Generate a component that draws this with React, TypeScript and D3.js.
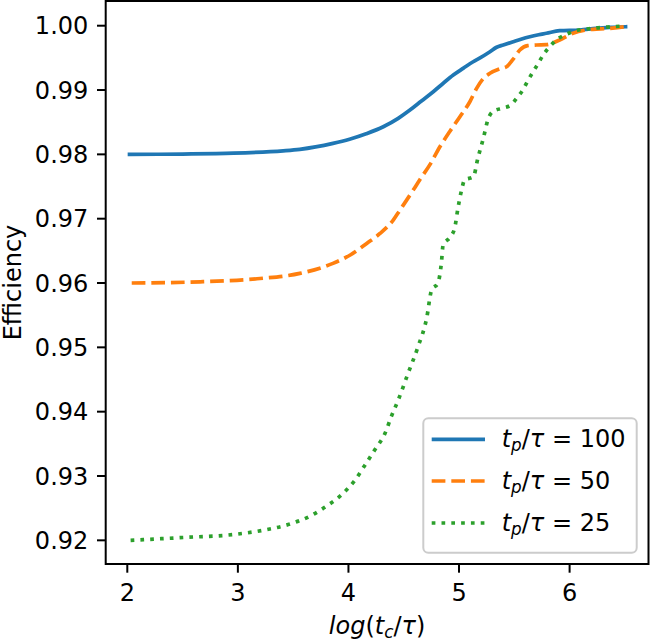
import React from "react";
import * as d3 from "d3";

const blueX = [2.02, 2.5, 2.96, 3.41, 3.56, 3.86, 4.01, 4.16, 4.315, 4.45, 4.556, 4.66, 4.767, 4.86, 4.948, 5.04, 5.128, 5.19, 5.28, 5.34, 5.4, 5.49, 5.56, 5.64, 5.72, 5.79, 5.91, 6.09, 6.24, 6.36, 6.506];
const blueY = [0.98, 0.98005, 0.98018, 0.98055, 0.98078, 0.9817, 0.98235, 0.9832, 0.98429, 0.9856, 0.98689, 0.9883, 0.98974, 0.9911, 0.99233, 0.9934, 0.9944, 0.995, 0.99596, 0.99665, 0.997, 0.99751, 0.9979, 0.99829, 0.9986, 0.99882, 0.99922, 0.99933, 0.9996, 0.99975, 0.99984];

const orangeX = [2.04, 2.66, 3.2, 3.56, 3.86, 4.02, 4.165, 4.285, 4.405, 4.466, 4.586, 4.647, 4.737, 4.827, 4.918, 5.008, 5.098, 5.159, 5.22, 5.28, 5.37, 5.43, 5.49, 5.55, 5.62, 5.7, 5.79, 5.91, 6.03, 6.15, 6.28, 6.39, 6.5];
const orangeY = [0.96, 0.96019, 0.9607, 0.96149, 0.96305, 0.9644, 0.96616, 0.9677, 0.96978, 0.97134, 0.97445, 0.9761, 0.9784, 0.98118, 0.9836, 0.98585, 0.98818, 0.99026, 0.9918, 0.9926, 0.9933, 0.99362, 0.9948, 0.99622, 0.9969, 0.997, 0.99705, 0.99778, 0.99882, 0.99933, 0.9995, 0.99962, 0.99984];

const greenX = [2.03, 2.506, 2.958, 3.23, 3.486, 3.652, 3.8, 3.94, 4.059, 4.149, 4.24, 4.33, 4.39, 4.45, 4.54, 4.631, 4.707, 4.752, 4.81, 4.84, 4.856, 4.917, 4.96, 4.99, 5.023, 5.05, 5.13, 5.17, 5.22, 5.26, 5.31, 5.4, 5.475, 5.52, 5.58, 5.626, 5.67, 5.717, 5.76, 5.82, 5.88, 5.957, 6.03, 6.21, 6.39, 6.48];
const greenY = [0.92, 0.92044, 0.9209, 0.92157, 0.92261, 0.92375, 0.9253, 0.92712, 0.92935, 0.93168, 0.93412, 0.93661, 0.93935, 0.9418, 0.946, 0.95018, 0.9545, 0.9589, 0.96003, 0.96305, 0.9659, 0.96709, 0.9685, 0.9716, 0.97445, 0.976, 0.97652, 0.97938, 0.98249, 0.98534, 0.9867, 0.9872, 0.98775, 0.9887, 0.9901, 0.99156, 0.99285, 0.99415, 0.99544, 0.99673, 0.99778, 0.99855, 0.99907, 0.9996, 0.99984, 0.99995];

const seriesLabels = ["100", "50", "25"];
const xTicks = [2, 3, 4, 5, 6];
const yTicks = [0.92, 0.93, 0.94, 0.95, 0.96, 0.97, 0.98, 0.99, 1.0];

const W = 650;
const H = 643;
const FONT = "DejaVu Sans";
const FS = 24;
const LW = 3.7;

export default function App() {
  const left = 105.7, right = 648.5, top = 1, bottom = 564;
  const x = d3.scaleLinear().domain([1.8047, 6.7135]).range([left, right]);
  const y = d3.scaleLinear().domain([0.91632, 1.00384]).range([bottom, top]);
  const line = d3
    .line<[number, number]>()
    .x((d) => x(d[0]))
    .y((d) => y(d[1]))
    .curve(d3.curveMonotoneX);

  const series = [
    { xs: blueX, ys: blueY, color: "#1f77b4", dash: undefined as string | undefined },
    { xs: orangeX, ys: orangeY, color: "#ff7f0e", dash: `${3.7 * LW},${1.6 * LW}` },
    { xs: greenX, ys: greenY, color: "#2ca02c", dash: `${1 * LW},${1.65 * LW}` },
  ];

  const tick = 8.7;
  const legX = 423.3, legY = 418.3, legW = 213.4, legH = 134.4;
  const rowY = [439.3, 481, 523];

  return (
    <svg
      width={W}
      height={H}
      style={{ position: "absolute", left: 0, top: 0, background: "white" }}
      fontFamily={FONT}
    >
      <rect x={0} y={0} width={W} height={H} fill="white" />
      <defs>
        <clipPath id="plotclip">
          <rect x={left} y={top} width={right - left} height={bottom - top} />
        </clipPath>
      </defs>
      <g clipPath="url(#plotclip)">
        {series.map((s, i) => (
          <path
            key={i}
            d={line(s.xs.map((v, j) => [v, s.ys[j]] as [number, number])) || ""}
            fill="none"
            stroke={s.color}
            strokeWidth={LW}
            strokeDasharray={s.dash}
            strokeLinejoin="round"
            strokeLinecap={s.dash ? "butt" : "square"}
          />
        ))}
      </g>
      <rect x={left} y={top} width={right - left} height={bottom - top} fill="none" stroke="black" strokeWidth={2} />
      {xTicks.map((t) => (
        <g key={t}>
          <line x1={x(t)} x2={x(t)} y1={bottom} y2={bottom + tick} stroke="black" strokeWidth={2} />
          <text x={x(t)} y={601} textAnchor="middle" fontSize={FS} fill="black">
            {t}
          </text>
        </g>
      ))}
      {yTicks.map((t) => (
        <g key={t}>
          <line x1={left - tick} x2={left} y1={y(t)} y2={y(t)} stroke="black" strokeWidth={2} />
          <text x={88.3} y={y(t)} dy="0.36em" textAnchor="end" fontSize={FS} fill="black">
            {t.toFixed(2)}
          </text>
        </g>
      ))}
      <text x={(left + right) / 2} y={634} textAnchor="middle" fontSize={FS} fill="black">
        <tspan fontStyle="italic">log</tspan>
        <tspan>(</tspan>
        <tspan fontStyle="italic">t</tspan>
        <tspan fontStyle="italic" fontSize={FS * 0.7} dy={4}>c</tspan>
        <tspan dy={-4}>/</tspan>
        <tspan fontStyle="italic">τ</tspan>
        <tspan>)</tspan>
      </text>
      <text
        transform={`translate(20.5, ${(top + bottom) / 2}) rotate(-90)`}
        textAnchor="middle"
        fontSize={FS}
        fill="black"
      >
        Efficiency
      </text>
      <rect
        x={legX}
        y={legY}
        width={legW}
        height={legH}
        rx={5}
        fill="white"
        fillOpacity={0.8}
        stroke="#cccccc"
        strokeWidth={2}
      />
      {series.map((s, i) => (
        <g key={i}>
          <line
            x1={431.7}
            x2={485}
            y1={rowY[i]}
            y2={rowY[i]}
            stroke={s.color}
            strokeWidth={LW}
            strokeDasharray={s.dash}
          />
          <text x={501.7} y={rowY[i] + 7.5} fontSize={FS} fill="black">
            <tspan fontStyle="italic">t</tspan>
            <tspan fontStyle="italic" fontSize={FS * 0.7} dy={4}>p</tspan>
            <tspan dy={-4}>/</tspan>
            <tspan fontStyle="italic">τ</tspan>
            <tspan> = {seriesLabels[i]}</tspan>
          </text>
        </g>
      ))}
    </svg>
  );
}
